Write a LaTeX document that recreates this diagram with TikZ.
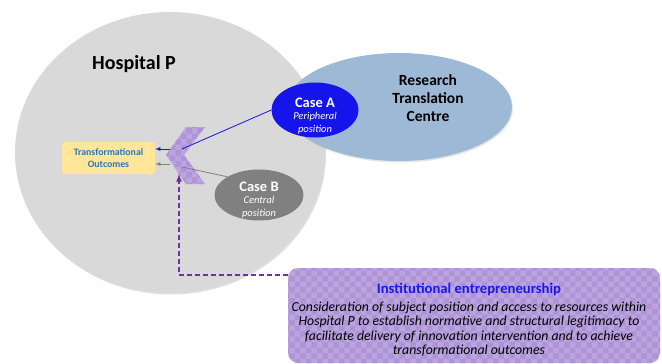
\documentclass[tikz,border=0pt]{standalone}
\usepackage{fontspec}
\setmainfont{Carlito}
\usepackage{tikz}
\usetikzlibrary{shapes.geometric}
\usetikzlibrary{patterns, shadows}
\usetikzlibrary{positioning}

\definecolor{hospgrey}{HTML}{D9D9D9}
\definecolor{rtcblue}{HTML}{9DB9D5}
\definecolor{caseblue}{HTML}{1414EB}
\definecolor{casegrey}{HTML}{808080}
\definecolor{outyellow}{HTML}{FFE699}
\definecolor{outtext}{HTML}{2E75B6}
\definecolor{lilac}{HTML}{BBA5DF}
\definecolor{lilacdark}{HTML}{AE94D7}
\definecolor{dashpurple}{HTML}{7030A0}
\definecolor{instblue}{HTML}{1A1AE6}

\begin{document}
\begin{tikzpicture}[x=1pt,y=-1pt,>=latex,
	lilacfill/.style={preaction={fill=lilac},pattern=checkerboard,pattern color=lilacdark},
	casenode/.style={ellipse,inner sep=0pt,text=white,align=center,font=\fontsize{10.5}{12.5}\selectfont\itshape}]
		\useasboundingbox (0,0) rectangle (662,364);
		\node [ellipse,fill=hospgrey,minimum width=310pt,minimum height=281pt,
			drop shadow={opacity=0.25,shadow xshift=1pt,shadow yshift=-1.5pt}] (0) at (170,152.5) {};
		\node [font=\fontsize{20}{22}\selectfont\bfseries] (1) at (134,64) {Hospital P};
		\node [ellipse,fill=rtcblue,minimum width=226pt,minimum height=108pt,
			drop shadow={opacity=0.2,shadow xshift=1pt,shadow yshift=-1.5pt}] (2) at (399,107) {};
		\node [align=center,font=\fontsize{15.5}{18}\selectfont\bfseries] (3) at (428,98) {Research\\Translation\\Centre};
		\node [casenode,fill=caseblue,minimum width=87pt,minimum height=55pt] (4) at (315,110) {};
		\node [casenode] (4t) at (315,116)
			{{\upshape\bfseries\fontsize{14.5}{15}\selectfont Case A}\\Peripheral\\position};
		\node [casenode,fill=casegrey,minimum width=89pt,minimum height=51pt] (5) at (259,195) {};
		\node [casenode] (5t) at (259,200)
			{{\upshape\bfseries\fontsize{14.5}{15}\selectfont Case B}\\Central\\position};
		\node [fill=outyellow,rounded corners=3pt,minimum width=93pt,minimum height=32pt,inner sep=0pt,
			align=center,text=outtext,font=\fontsize{9.8}{12}\selectfont\bfseries] (6) at (108.5,158) {Transformational\\Outcomes};
		\fill [lilacfill] (186,127) -- (205,127) -- (184,155) -- (205,184) -- (186,184) -- (166,155) -- cycle;
		\coordinate (7) at (182,149);
		\coordinate (8) at (170,149);
		\coordinate (9) at (182,167);
		\coordinate (10) at (170,164);
		\coordinate (11) at (179,174);
		\node [lilacfill,rounded corners=10pt,minimum width=372pt,minimum height=95pt,inner sep=0pt] (12) at (474,315.5) {};
		\node [align=center,font=\fontsize{13.8}{14.5}\selectfont\itshape] (12t) at (469,320)
			{{\upshape\bfseries\color{instblue}\fontsize{14.7}{17}\selectfont Institutional entrepreneurship}\\[3pt]
			Consideration of subject position and access to resources within\\
			Hospital P to establish normative and structural legitimacy to\\
			facilitate delivery of innovation intervention and to achieve\\
			transformational outcomes};
		\coordinate (13) at (288,275);
		\draw [caseblue,thick] (4.west)--(7);
		\draw [->,caseblue,thick] (8)--(8 -| 6.east);
		\draw [casegrey,thick] (5.150)--(9);
		\draw [->,casegrey,thick] (10)--(10 -| 6.east);
		\draw [->,dashpurple,line width=1.6pt,dash pattern=on 5pt off 3pt] (13) -| (11);
\end{tikzpicture}
\end{document}
